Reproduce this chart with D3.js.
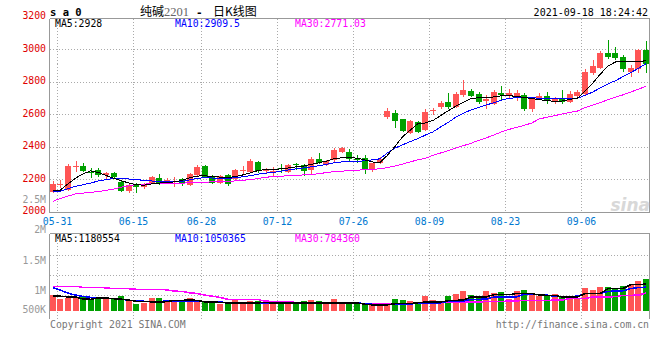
<!DOCTYPE html>
<html><head><meta charset="utf-8">
<script src="https://cdn.jsdelivr.net/npm/d3@7"></script>
<style>
body{margin:0;background:#fff}
svg{display:block}
text{font-family:"DejaVu Sans Mono",monospace;font-size:9.8px}
</style>
</head><body>
<svg id="c" width="660" height="360"></svg>
<script>
const dates = ["05-31","06-01","06-02","06-03","06-04","06-07","06-08","06-09","06-10","06-11",
"06-15","06-16","06-17","06-18","06-21","06-22","06-23","06-24","06-25","06-28",
"06-29","06-30","07-01","07-02","07-05","07-06","07-07","07-08","07-09","07-12",
"07-13","07-14","07-15","07-16","07-19","07-20","07-21","07-22","07-23","07-26",
"07-27","07-28","07-29","07-30","08-02","08-03","08-04","08-05","08-06","08-09",
"08-10","08-11","08-12","08-13","08-16","08-17","08-18","08-19","08-20","08-23",
"08-24","08-25","08-26","08-27","08-30","08-31","09-01","09-02","09-03","09-06",
"09-07","09-08","09-09","09-10","09-13","09-14","09-15","09-16","09-17"];
const tickDates = ["05-31","06-15","06-28","07-12","07-26","08-09","08-23","09-06"];

const open  = [2122,2163,2132,2276,2280,2245,2255,2225,2239,2183,
2128,2163,2149,2174,2208,2180,2180,2198,2163,2225,
2280,2218,2174,2225,2198,2248,2245,2303,2250,2247,
2268,2245,2290,2286,2255,2323,2286,2317,2368,2368,
2325,2327,2255,2300,2583,2608,2567,2485,2553,2502,
2617,2645,2676,2645,2717,2742,2723,2682,2662,2730,
2711,2713,2717,2631,2700,2712,2672,2700,2676,2713,
2723,2850,2885,2977,2977,2949,2860,2880,2992];
const high  = [2188,2194,2290,2311,2300,2270,2266,2245,2245,2192,
2170,2176,2175,2220,2230,2205,2210,2205,2240,2286,
2286,2222,2225,2230,2262,2280,2321,2310,2268,2274,
2290,2290,2300,2295,2333,2360,2320,2390,2400,2383,
2348,2348,2300,2333,2635,2627,2570,2565,2560,2630,
2640,2680,2727,2733,2809,2752,2735,2717,2745,2770,
2755,2745,2727,2700,2730,2735,2705,2745,2740,2750,
2880,2930,2990,3055,3014,2960,2900,3000,3050];
const low   = [2112,2143,2128,2245,2245,2205,2214,2198,2204,2118,
2115,2115,2137,2170,2166,2172,2150,2160,2160,2220,
2208,2170,2168,2160,2195,2225,2240,2235,2230,2212,
2240,2240,2255,2218,2230,2290,2280,2305,2360,2310,
2300,2231,2245,2295,2570,2515,2489,2480,2485,2495,
2592,2630,2633,2635,2705,2705,2662,2633,2655,2680,
2700,2680,2620,2610,2685,2662,2660,2660,2668,2690,
2715,2840,2880,2940,2935,2860,2825,2855,2850];
const close = [2167,2168,2280,2282,2251,2237,2223,2235,2210,2128,
2163,2153,2167,2214,2177,2194,2186,2172,2232,2276,
2214,2174,2218,2169,2255,2255,2313,2249,2257,2252,
2262,2286,2284,2250,2325,2297,2311,2378,2389,2321,
2320,2255,2297,2323,2618,2559,2497,2557,2491,2614,
2622,2670,2645,2721,2748,2713,2672,2692,2737,2717,
2730,2727,2631,2690,2712,2680,2697,2672,2721,2737,
2860,2897,2977,2953,2947,2880,2885,2992,2910];

const ma5  = [2128,2132,2170,2205,2232,2250,2240,2222,2205,2190,
2175,2165,2162,2170,2175,2178,2182,2192,2208,2218,
2220,2215,2212,2208,2215,2225,2238,2252,2258,2260,
2262,2268,2275,2280,2290,2300,2310,2325,2330,2332,
2328,2318,2305,2300,2345,2400,2460,2500,2540,2545,
2560,2590,2620,2648,2672,2695,2700,2702,2705,2712,
2713,2708,2702,2695,2688,2682,2678,2680,2690,2697,
2740,2790,2845,2895,2920,2925,2923,2922,2928];
const ma10 = [2122,2124,2140,2155,2165,2175,2188,2196,2203,2204,
2200,2196,2192,2188,2184,2182,2183,2185,2195,2204,
2208,2206,2204,2205,2207,2214,2220,2230,2236,2240,
2248,2256,2262,2268,2275,2282,2290,2300,2305,2306,
2308,2312,2318,2324,2360,2390,2410,2430,2448,2470,
2490,2520,2548,2580,2605,2625,2640,2655,2670,2685,
2697,2700,2700,2699,2698,2697,2695,2693,2695,2697,
2715,2735,2760,2785,2805,2830,2855,2880,2909.5];
const ma30 = [2062,2080,2095,2108,2113,2118,2123,2130,2138,2150,
2158,2165,2168,2172,2173,2174,2174,2175,2176,2178,
2180,2183,2184,2186,2188,2192,2196,2203,2210,2216,
2218,2219,2220,2226,2229,2232,2240,2245,2248,2252,
2255,2256,2258,2263,2270,2280,2292,2305,2318,2328,
2345,2360,2375,2390,2405,2420,2437,2453,2470,2490,
2505,2518,2530,2545,2570,2580,2590,2600,2610,2618,
2640,2655,2670,2688,2703,2718,2735,2752,2771.03];

const volume = [690000,515000,590000,590000,646000,515000,515000,620000,515000,646000,
440000,295000,352000,575000,575000,396000,470000,470000,575000,470000,
396000,427000,295000,352000,500000,352000,440000,440000,352000,352000,
396000,352000,295000,427000,470000,427000,352000,515000,352000,352000,
352000,352000,295000,295000,370000,515000,470000,427000,352000,646000,
470000,352000,646000,735000,867000,690000,646000,867000,792000,836000,
515000,867000,910000,735000,646000,646000,735000,646000,646000,570000,
1000000,940000,1050000,1040000,1000000,1080000,1130000,1300000,1390000];
const volMa5 = [660000,650000,616000,616000,530000,515000,575000,575000,540000,520000,
480000,427000,427000,400000,396000,410000,470000,470000,480000,470000,
396000,396000,380000,352000,352000,352000,360000,360000,370000,352000,
352000,352000,340000,352000,352000,352000,352000,352000,352000,352000,
352000,300000,272000,272000,272000,320000,325000,330000,360000,396000,
396000,400000,450000,470000,480000,616000,616000,616000,720000,720000,
720000,766000,766000,766000,700000,690000,690000,616000,616000,616000,
766000,766000,770000,985000,985000,990000,1160000,1170000,1180554];
const volMa10 = [1030000,920000,790000,700000,640000,600000,575000,570000,545000,520000,
470000,450000,427000,427000,427000,430000,427000,427000,427000,425000,
420000,420000,400000,360000,352000,352000,350000,352000,350000,330000,
325000,325000,325000,325000,325000,325000,330000,352000,352000,352000,
352000,330000,295000,295000,295000,295000,300000,300000,352000,352000,
352000,360000,427000,427000,430000,515000,515000,520000,616000,616000,
616000,620000,735000,735000,735000,700000,646000,646000,646000,650000,
766000,766000,770000,860000,880000,890000,990000,1030000,1050365];
const volMa30 = [1087000,1087000,1087000,1087000,1040000,1030000,1030000,1020000,985000,985000,
980000,955000,955000,955000,950000,930000,870000,867000,800000,770000,
700000,650000,600000,515000,515000,515000,510000,500000,430000,427000,
427000,420000,370000,370000,370000,365000,360000,352000,352000,352000,
350000,310000,308000,308000,308000,305000,308000,310000,350000,352000,
352000,355000,396000,396000,396000,400000,400000,410000,427000,427000,
430000,440000,470000,470000,470000,470000,475000,480000,545000,545000,
550000,616000,616000,620000,630000,690000,690000,700000,784360];

const priceTicks = [2000,2200,2400,2600,2800,3000,3200];
const volTicks = [500000,1000000,1500000,2000000,2500000];
const volTickLabels = ["500K","1M","1.5M","2M","2.5M"];

const UP="#ff5555", DOWN="#00a000", GRID="#aaaaaa", FRAME="#999999";
const svg = d3.select("#c");
const L=49.5, R=649.5, PT=18.5, PB=212.5, VT=233.5, VB=319;

const x = d3.scaleBand().domain(dates).range([48.9, 649.7]).padding(0);
const bw = x.bandwidth();
const cx = d => x(d) + bw/2;
const y = d3.scaleLinear().domain([2000,3200]).range([211.5,16.5]);
const yv = d3.scaleLinear().domain([0,3400000]).range([311,233.7]);
const yvLab = d3.scaleLinear().domain([1000000,2000000]).range([291,230]);

const g = svg.append("g");
const gridX = tickDates.map(d => Math.round(x(d)+bw)+0.5);
const grid = g.append("g").attr("stroke",GRID).attr("stroke-dasharray","1,2").attr("shape-rendering","crispEdges");
gridX.forEach(gx=>{
  grid.append("line").attr("x1",gx).attr("x2",gx).attr("y1",PT).attr("y2",PB);
  grid.append("line").attr("x1",gx).attr("x2",gx).attr("y1",VT).attr("y2",VB+1);
});
priceTicks.filter(v=>v>2000&&v<3200).forEach(v=>{
  const yy=Math.round(y(v))+0.5;
  grid.append("line").attr("x1",L).attr("x2",R).attr("y1",yy).attr("y2",yy);
});
[255.5,275.5,295.5].forEach(yy=>grid.append("line").attr("x1",L).attr("x2",R).attr("y1",yy).attr("y2",yy));

const fr = g.append("g").attr("stroke",FRAME).attr("shape-rendering","crispEdges");
fr.append("line").attr("x1",L).attr("x2",R).attr("y1",PT).attr("y2",PT);
fr.append("line").attr("x1",L).attr("x2",R).attr("y1",PB).attr("y2",PB);
fr.append("line").attr("x1",L).attr("x2",L).attr("y1",PT).attr("y2",PB);
fr.append("line").attr("x1",R).attr("x2",R).attr("y1",PT).attr("y2",PB);
fr.append("line").attr("x1",L).attr("x2",R).attr("y1",VT).attr("y2",VT);
fr.append("line").attr("x1",L).attr("x2",L).attr("y1",VT).attr("y2",VB);
fr.append("line").attr("x1",R).attr("x2",R).attr("y1",VT).attr("y2",VB);

svg.append("text").attr("x",650).attr("y",211).attr("text-anchor","end")
  .style("font-family","DejaVu Sans").style("font-size","17px").style("font-style","italic").style("font-weight","bold")
  .attr("fill","#d8d8d8").text("sina");

const cg = svg.append("g").attr("shape-rendering","crispEdges");
dates.forEach((d,i)=>{
  const col = close[i]>=open[i]?UP:DOWN;
  const bx = Math.round(cx(d)-3);
  const wx = bx+3.5;
  cg.append("line").attr("x1",wx).attr("x2",wx).attr("y1",Math.round(y(high[i]))).attr("y2",Math.round(y(low[i]))).attr("stroke",col);
  const t=Math.round(y(Math.max(open[i],close[i]))), b=Math.round(y(Math.min(open[i],close[i])));
  cg.append("rect").attr("x",bx).attr("y",t).attr("width",6).attr("height",Math.max(1,b-t)).attr("fill",col);
  const vt=Math.round(yv(volume[i]));
  cg.append("rect").attr("x",bx).attr("y",vt).attr("width",6).attr("height",311-vt).attr("fill",col);
});

const lineP = arr => d3.line().x((d,i)=>cx(d)).y((d,i)=>y(arr[i]))(dates);
const lineV = arr => d3.line().x((d,i)=>cx(d)).y((d,i)=>yv(arr[i]))(dates);
[[ma30,"#ff00ff"],[ma10,"#0000ff"],[ma5,"#000000"]].forEach(([a,c])=>
  svg.append("path").attr("d",lineP(a)).attr("fill","none").attr("stroke",c).attr("stroke-width",1).attr("shape-rendering","crispEdges"));
[[volMa30,"#ff00ff"],[volMa10,"#0000ff"],[volMa5,"#000000"]].forEach(([a,c])=>
  svg.append("path").attr("d",lineV(a)).attr("fill","none").attr("stroke",c).attr("stroke-width",1.5).attr("shape-rendering","crispEdges"));

const n = dates.length-1;
priceTicks.forEach(v=>svg.append("text").attr("x",46).attr("y",y(v)+2.6).attr("text-anchor","end").attr("fill","#e00000").text(v));
volTicks.forEach((v,i)=>svg.append("text").attr("x",46).attr("y",Math.min(yvLab(v),310)+3.3).attr("text-anchor","end").attr("fill","#999999").text(volTickLabels[i]));
tickDates.forEach((d,i)=>svg.append("text").attr("x",gridX[i]).attr("y",225).attr("text-anchor","middle").attr("fill","#0078d0").text(d));

svg.append("text").attr("x",50).attr("y",15.5).style("font-weight","bold").style("font-size","10.5px").attr("fill","#000").text("s a 0");
svg.append("text").attr("x",140).attr("y",16).style("font-family","'Noto Sans CJK SC'").style("font-size","12px").attr("fill","#000").text("纯碱");
svg.append("text").attr("x",164).attr("y",16).style("font-family","'Liberation Serif'").style("font-size","12.5px").attr("fill","#666").text("2201");
svg.append("text").attr("x",196).attr("y",16).style("font-size","11px").style("font-weight","bold").attr("fill","#000").text("-");
svg.append("text").attr("x",213).attr("y",16).style("font-family","'Noto Sans CJK SC'").style("font-size","12px").attr("fill","#000").text("日K线图");
svg.append("text").attr("x",648).attr("y",15.5).attr("text-anchor","end").style("font-size","10px").attr("fill","#000").text("2021-09-18 18:24:42");

svg.append("text").attr("x",55).attr("y",27).attr("fill","#000").text("MA5:"+ma5[n]);
svg.append("text").attr("x",175).attr("y",27).attr("fill","#0000ff").text("MA10:"+ma10[n]);
svg.append("text").attr("x",295).attr("y",27).attr("fill","#ff00ff").text("MA30:"+ma30[n]);
svg.append("text").attr("x",55).attr("y",242).attr("fill","#000").text("MA5:"+volMa5[n]);
svg.append("text").attr("x",175).attr("y",242).attr("fill","#0000ff").text("MA10:"+volMa10[n]);
svg.append("text").attr("x",295).attr("y",242).attr("fill","#ff00ff").text("MA30:"+volMa30[n]);

svg.append("text").attr("x",50).attr("y",327.5).attr("fill","#777").text("Copyright 2021 SINA.COM");
svg.append("text").attr("x",649).attr("y",327.5).attr("text-anchor","end").attr("fill","#777").text("http://finance.sina.com.cn");
</script>
</body></html>
